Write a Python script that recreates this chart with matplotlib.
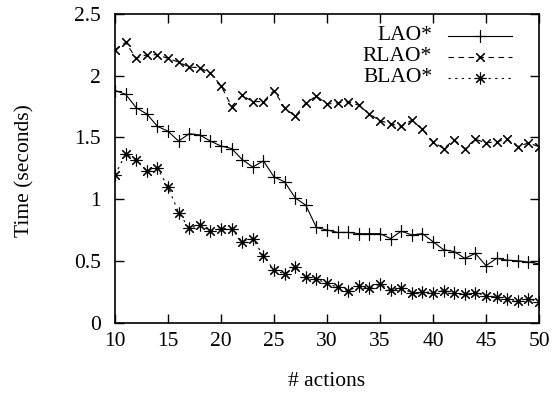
import matplotlib.pyplot as plt
import numpy as np

SERIF = 'Liberation Serif'
INK = '#000000'
FS = 15.5

actions = list(range(10, 51))

lao = [1.88, 1.85, 1.74, 1.69, 1.59, 1.55, 1.47, 1.53, 1.52, 1.47,
       1.43, 1.41, 1.32, 1.26, 1.31, 1.18, 1.14, 1.01, 0.95, 0.77,
       0.75, 0.73, 0.73, 0.72, 0.72, 0.72, 0.68, 0.74, 0.71, 0.72,
       0.655, 0.59, 0.575, 0.52, 0.56, 0.46, 0.52, 0.505, 0.50, 0.49,
       0.475]

rlao = [2.21, 2.27, 2.14, 2.17, 2.17, 2.14, 2.11, 2.07, 2.065, 2.02,
        1.92, 1.75, 1.84, 1.79, 1.79, 1.88, 1.74, 1.67, 1.78, 1.835,
        1.77, 1.78, 1.79, 1.76, 1.69, 1.635, 1.61, 1.59, 1.64, 1.565,
        1.465, 1.41, 1.48, 1.41, 1.485, 1.455, 1.465, 1.485, 1.425, 1.455,
        1.425]

blao = [1.195, 1.365, 1.32, 1.23, 1.25, 1.10, 0.89, 0.765, 0.79, 0.74,
        0.76, 0.76, 0.655, 0.68, 0.54, 0.425, 0.395, 0.447, 0.366, 0.352,
        0.317, 0.285, 0.258, 0.296, 0.277, 0.312, 0.262, 0.277, 0.242, 0.25,
        0.242, 0.258, 0.237, 0.23, 0.242, 0.217, 0.209, 0.188, 0.177, 0.19,
        0.169]

labels = ['LAO*', 'RLAO*', 'BLAO*']
xticks = [10, 15, 20, 25, 30, 35, 40, 45, 50]
yticks = [0, 0.5, 1, 1.5, 2, 2.5]
yticklabels = ['0', '0.5', '1', '1.5', '2', '2.5']

styles = [
    dict(ls='-', marker=(4, 2, 0)),
    dict(ls=(0, (5, 4)), marker=(4, 2, 45)),
    dict(ls=(0, (2, 4)), marker=(8, 2, 0)),
]

fig = plt.figure(figsize=(5.57, 3.93), dpi=100, facecolor='white')
ax = fig.add_axes([115/557, 70.5/393, 424/557, 308.5/393])

for ys, st in zip([lao, rlao, blao], styles):
    ax.plot(actions, ys, color=INK, lw=0.8, ms=8.5, mew=0.8, **st)

ax.set_xlim(10, 50)
ax.set_ylim(0, 2.5)
ax.set_xticks(xticks)
ax.set_yticks(yticks)
ax.set_yticklabels(yticklabels)
ax.tick_params(direction='in', length=6.5, width=1.0, top=True, right=True,
               labelsize=FS, colors=INK)
ax.tick_params(axis='x', pad=7)
ax.tick_params(axis='y', pad=10)
for lab in ax.get_xticklabels() + ax.get_yticklabels():
    lab.set_fontfamily(SERIF)
for sp in ax.spines.values():
    sp.set_linewidth(1.2)

fig.text(327/557, 1 - 381/393, '# actions', fontsize=FS, fontfamily=SERIF,
         color=INK, ha='center', va='center')
fig.text(25/557, 1 - 171/393, 'Time (seconds)', fontsize=FS, fontfamily=SERIF,
         color=INK, ha='center', va='center', rotation=90)

# key, gnuplot style: label on the left, sample on the right
rows = [0.929, 0.862, 0.793]
for lab, st, yk in zip(labels, styles, rows):
    ax.text(0.748, yk, lab, transform=ax.transAxes, fontsize=FS,
            fontfamily=SERIF, color=INK, ha='right', va='center')
    ax.plot([0.785, 0.936], [yk, yk], transform=ax.transAxes, color=INK,
            lw=0.8, ls=st['ls'])
    ax.plot([0.8605], [yk], transform=ax.transAxes, color=INK, ls='none',
            marker=st['marker'], ms=8.5, mew=0.8)

plt.savefig('out.png', dpi=100, facecolor='white')
plt.close()
